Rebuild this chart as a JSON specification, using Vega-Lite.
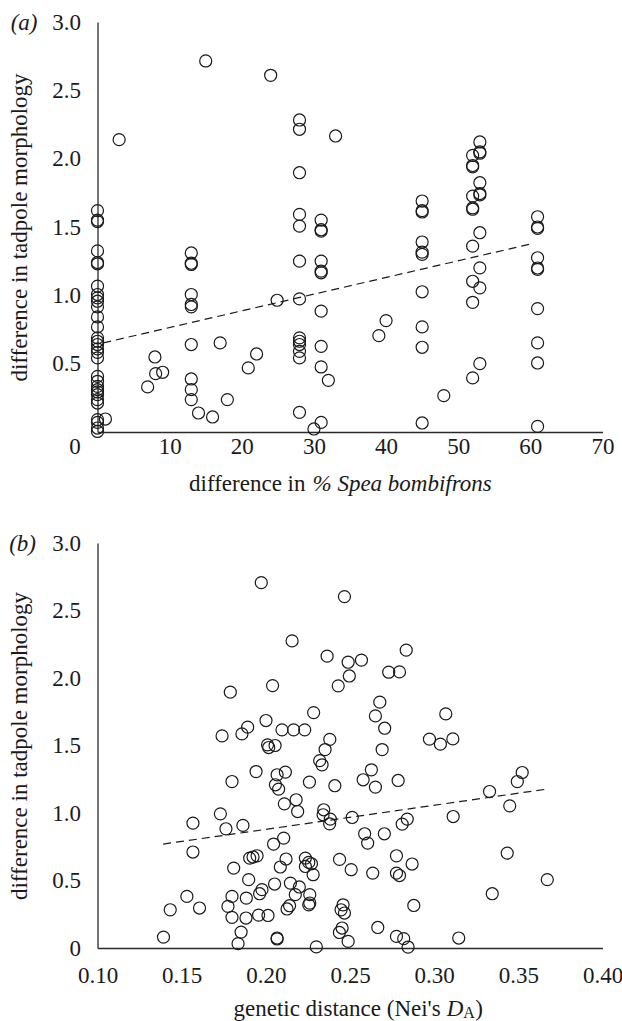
{
  "$schema": "https://vega.github.io/schema/vega-lite/v6.json",
  "background": "white",
  "padding": {"left": 7.5, "top": 11, "right": 0, "bottom": 0},
  "config": {
    "view": {"stroke": null},
    "font": "Liberation Serif",
    "axis": {"labelFont": "Liberation Serif", "titleFont": "Liberation Serif", "labelFontSize": 23, "titleFontSize": 23, "labelColor": "#1a1a1a", "titleColor": "#1a1a1a", "titleFontWeight": "normal", "grid": false, "ticks": false, "domainColor": "#2a2a2a", "domainWidth": 1.3, "labelFlush": false, "labelOverlap": false},
    "title": {"font": "Liberation Serif", "fontSize": 23, "fontWeight": "normal", "color": "#1a1a1a"}
  },
  "datasets": {
    "pa": [
      {"x": 0, "y": 1.62}, {"x": 0, "y": 1.55}, {"x": 0, "y": 1.54}, {"x": 0, "y": 1.325}, {"x": 0, "y": 1.24}, {"x": 0, "y": 1.23},
      {"x": 0, "y": 1.067}, {"x": 0, "y": 1.006}, {"x": 0, "y": 0.981}, {"x": 0, "y": 0.957}, {"x": 0, "y": 0.916}, {"x": 0, "y": 0.842},
      {"x": 0, "y": 0.769}, {"x": 0, "y": 0.689}, {"x": 0, "y": 0.664}, {"x": 0, "y": 0.64}, {"x": 0, "y": 0.608}, {"x": 0, "y": 0.583},
      {"x": 0, "y": 0.542}, {"x": 0, "y": 0.407}, {"x": 0, "y": 0.371}, {"x": 0, "y": 0.334}, {"x": 0, "y": 0.31}, {"x": 0, "y": 0.293},
      {"x": 0, "y": 0.273}, {"x": 0, "y": 0.237}, {"x": 0, "y": 0.212}, {"x": 0, "y": 0.09}, {"x": 0, "y": 0.07}, {"x": 0, "y": 0.029},
      {"x": 0, "y": 0.004},
      {"x": 1.1, "y": 0.095}, {"x": 3.0, "y": 2.139},
      {"x": 6.95, "y": 0.33}, {"x": 7.96, "y": 0.549}, {"x": 8.06, "y": 0.427}, {"x": 9.03, "y": 0.437},
      {"x": 13, "y": 1.31}, {"x": 13, "y": 1.235}, {"x": 13, "y": 1.226}, {"x": 13, "y": 1.006}, {"x": 13, "y": 0.933}, {"x": 13, "y": 0.916},
      {"x": 13, "y": 0.64}, {"x": 13, "y": 0.388}, {"x": 13, "y": 0.31}, {"x": 13, "y": 0.237},
      {"x": 14.0, "y": 0.139}, {"x": 15.95, "y": 0.11}, {"x": 15.0, "y": 2.715}, {"x": 17.0, "y": 0.652}, {"x": 18.0, "y": 0.237},
      {"x": 20.9, "y": 0.469}, {"x": 22.05, "y": 0.571}, {"x": 24.0, "y": 2.61}, {"x": 24.9, "y": 0.964},
      {"x": 28, "y": 2.283}, {"x": 28, "y": 2.215}, {"x": 28, "y": 1.897}, {"x": 28, "y": 1.592}, {"x": 28, "y": 1.506}, {"x": 28, "y": 1.25},
      {"x": 28, "y": 0.974}, {"x": 28, "y": 0.689}, {"x": 28, "y": 0.664}, {"x": 28, "y": 0.64}, {"x": 28, "y": 0.59}, {"x": 28, "y": 0.542},
      {"x": 28, "y": 0.144},
      {"x": 30.0, "y": 0.022},
      {"x": 31, "y": 1.55}, {"x": 31, "y": 1.48}, {"x": 31, "y": 1.47}, {"x": 31, "y": 1.25}, {"x": 31, "y": 1.177}, {"x": 31, "y": 1.165},
      {"x": 31, "y": 0.884}, {"x": 31, "y": 0.627}, {"x": 31, "y": 0.476}, {"x": 31, "y": 0.07},
      {"x": 32.0, "y": 0.378}, {"x": 33.0, "y": 2.166}, {"x": 39.0, "y": 0.705}, {"x": 40.0, "y": 0.815},
      {"x": 45, "y": 1.69}, {"x": 45, "y": 1.62}, {"x": 45, "y": 1.61}, {"x": 45, "y": 1.39}, {"x": 45, "y": 1.316}, {"x": 45, "y": 1.3},
      {"x": 45, "y": 1.026}, {"x": 45, "y": 0.769}, {"x": 45, "y": 0.62}, {"x": 45, "y": 0.066},
      {"x": 48.0, "y": 0.266},
      {"x": 52, "y": 2.024}, {"x": 52, "y": 1.95}, {"x": 52, "y": 1.94}, {"x": 52, "y": 1.726}, {"x": 52, "y": 1.64}, {"x": 52, "y": 1.63},
      {"x": 52, "y": 1.36}, {"x": 52, "y": 1.103}, {"x": 52, "y": 0.949}, {"x": 52, "y": 0.396},
      {"x": 53, "y": 2.122}, {"x": 53, "y": 2.05}, {"x": 53, "y": 2.04}, {"x": 53, "y": 1.824}, {"x": 53, "y": 1.745}, {"x": 53, "y": 1.735},
      {"x": 53, "y": 1.458}, {"x": 53, "y": 1.201}, {"x": 53, "y": 1.055}, {"x": 53, "y": 0.5},
      {"x": 61, "y": 1.575}, {"x": 61, "y": 1.5}, {"x": 61, "y": 1.49}, {"x": 61, "y": 1.275}, {"x": 61, "y": 1.2}, {"x": 61, "y": 1.19},
      {"x": 61, "y": 0.903}, {"x": 61, "y": 0.652}, {"x": 61, "y": 0.505}, {"x": 61, "y": 0.041}
    ],
    "la": [{"x": 0.8, "y": 0.652}, {"x": 60.4, "y": 1.38}],
    "pb": [
      {"x": 0.1973, "y": 2.706}, {"x": 0.2467, "y": 2.603}, {"x": 0.2156, "y": 2.275}, {"x": 0.2364, "y": 2.162}, {"x": 0.1789, "y": 1.895},
      {"x": 0.204, "y": 1.944}, {"x": 0.243, "y": 1.942}, {"x": 0.2284, "y": 1.744}, {"x": 0.2001, "y": 1.685}, {"x": 0.1892, "y": 1.636},
      {"x": 0.1858, "y": 1.586}, {"x": 0.174, "y": 1.571}, {"x": 0.2096, "y": 1.616}, {"x": 0.2165, "y": 1.616}, {"x": 0.2231, "y": 1.616},
      {"x": 0.238, "y": 1.545}, {"x": 0.2352, "y": 1.47}, {"x": 0.201, "y": 1.505}, {"x": 0.2055, "y": 1.5}, {"x": 0.2017, "y": 1.485},
      {"x": 0.2489, "y": 2.117}, {"x": 0.2568, "y": 2.132}, {"x": 0.2496, "y": 2.015}, {"x": 0.2834, "y": 2.206}, {"x": 0.273, "y": 2.043},
      {"x": 0.2794, "y": 2.045}, {"x": 0.2677, "y": 1.821}, {"x": 0.2651, "y": 1.719}, {"x": 0.2706, "y": 1.628}, {"x": 0.3069, "y": 1.734},
      {"x": 0.2972, "y": 1.547}, {"x": 0.3037, "y": 1.51}, {"x": 0.3111, "y": 1.549}, {"x": 0.2691, "y": 1.47}, {"x": 0.232, "y": 1.388},
      {"x": 0.2334, "y": 1.357}, {"x": 0.1942, "y": 1.307}, {"x": 0.1799, "y": 1.233}, {"x": 0.2067, "y": 1.283}, {"x": 0.2116, "y": 1.303},
      {"x": 0.2057, "y": 1.209}, {"x": 0.2076, "y": 1.177}, {"x": 0.2259, "y": 1.229}, {"x": 0.241, "y": 1.202}, {"x": 0.218, "y": 1.098},
      {"x": 0.211, "y": 1.068}, {"x": 0.2189, "y": 1.011}, {"x": 0.173, "y": 0.994}, {"x": 0.1567, "y": 0.925}, {"x": 0.1763, "y": 0.883},
      {"x": 0.1864, "y": 0.908}, {"x": 0.1567, "y": 0.711}, {"x": 0.2344, "y": 1.024}, {"x": 0.234, "y": 0.987}, {"x": 0.2383, "y": 0.955},
      {"x": 0.2379, "y": 0.92}, {"x": 0.2106, "y": 0.814}, {"x": 0.2046, "y": 0.77}, {"x": 0.1904, "y": 0.666}, {"x": 0.1924, "y": 0.674},
      {"x": 0.1948, "y": 0.683}, {"x": 0.1809, "y": 0.592}, {"x": 0.1898, "y": 0.506}, {"x": 0.2086, "y": 0.6}, {"x": 0.212, "y": 0.659},
      {"x": 0.2052, "y": 0.474}, {"x": 0.2146, "y": 0.481}, {"x": 0.2199, "y": 0.452}, {"x": 0.2175, "y": 0.395}, {"x": 0.1977, "y": 0.432},
      {"x": 0.1963, "y": 0.402}, {"x": 0.2235, "y": 0.666}, {"x": 0.2255, "y": 0.634}, {"x": 0.2271, "y": 0.624}, {"x": 0.2235, "y": 0.604},
      {"x": 0.2281, "y": 0.543}, {"x": 0.2261, "y": 0.395}, {"x": 0.2261, "y": 0.333}, {"x": 0.2255, "y": 0.32}, {"x": 0.1531, "y": 0.382},
      {"x": 0.1432, "y": 0.283}, {"x": 0.1606, "y": 0.296}, {"x": 0.1799, "y": 0.382}, {"x": 0.1884, "y": 0.37}, {"x": 0.1775, "y": 0.308},
      {"x": 0.1799, "y": 0.227}, {"x": 0.1882, "y": 0.222}, {"x": 0.1957, "y": 0.244}, {"x": 0.2013, "y": 0.241}, {"x": 0.2126, "y": 0.289},
      {"x": 0.2141, "y": 0.313}, {"x": 0.1853, "y": 0.118}, {"x": 0.1835, "y": 0.032}, {"x": 0.1392, "y": 0.081}, {"x": 0.2067, "y": 0.074},
      {"x": 0.2067, "y": 0.067}, {"x": 0.23, "y": 0.008}, {"x": 0.2459, "y": 0.32}, {"x": 0.2447, "y": 0.283}, {"x": 0.2467, "y": 0.259},
      {"x": 0.2453, "y": 0.148}, {"x": 0.2437, "y": 0.115}, {"x": 0.2489, "y": 0.049}, {"x": 0.2438, "y": 0.656}, {"x": 0.2627, "y": 1.32},
      {"x": 0.2578, "y": 1.246}, {"x": 0.2651, "y": 1.192}, {"x": 0.2786, "y": 1.241}, {"x": 0.3494, "y": 1.233}, {"x": 0.3523, "y": 1.3},
      {"x": 0.3329, "y": 1.159}, {"x": 0.3449, "y": 1.053}, {"x": 0.3113, "y": 0.974}, {"x": 0.2513, "y": 0.967}, {"x": 0.284, "y": 0.955},
      {"x": 0.281, "y": 0.918}, {"x": 0.2587, "y": 0.846}, {"x": 0.2605, "y": 0.777}, {"x": 0.2704, "y": 0.846}, {"x": 0.2507, "y": 0.58},
      {"x": 0.2635, "y": 0.555}, {"x": 0.2776, "y": 0.683}, {"x": 0.2869, "y": 0.622}, {"x": 0.2776, "y": 0.555}, {"x": 0.2794, "y": 0.537},
      {"x": 0.3434, "y": 0.703}, {"x": 0.3672, "y": 0.506}, {"x": 0.3345, "y": 0.402}, {"x": 0.2879, "y": 0.315}, {"x": 0.2665, "y": 0.152},
      {"x": 0.2776, "y": 0.086}, {"x": 0.2819, "y": 0.069}, {"x": 0.2845, "y": 0.007}, {"x": 0.3146, "y": 0.074}
    ],
    "lb": [{"x": 0.139, "y": 0.77}, {"x": 0.367, "y": 1.177}]
  },
  "spacing": 36,
  "vconcat": [
    {
      "width": 505,
      "height": 410,
      "layer": [
        {
          "data": {"name": "pa"},
          "mark": {"type": "point", "shape": "circle", "filled": false, "size": 145, "strokeWidth": 1.2, "color": "#1a1a1a", "opacity": 1},
          "encoding": {
            "x": {"field": "x", "type": "quantitative", "scale": {"domain": [0, 70], "nice": false, "zero": false},
              "axis": {"values": [0, 10, 20, 30, 40, 50, 60, 70], "labelPadding": 3,
                "labelOffset": {"condition": {"test": "datum.value === 0", "value": -23}, "value": 0},
                "title": "difference in", "titleAlign": "right", "titleBaseline": "alphabetic", "titleX": 207.5, "titleY": 58.3}},
            "y": {"field": "y", "type": "quantitative", "scale": {"domain": [0, 3], "nice": false},
              "axis": {"values": [0, 0.5, 1, 1.5, 2, 2.5, 3], "labelExpr": "datum.value === 0 ? '' : format(datum.value, '.1f')", "labelPadding": 17,
                "title": "difference in tadpole morphology", "titleAngle": -90, "titleAlign": "center", "titleBaseline": "middle", "titleX": -78.3, "titleY": 205}}
          }
        },
        {
          "data": {"name": "la"},
          "mark": {"type": "line", "strokeDash": [8, 5], "strokeWidth": 1.2, "color": "#1a1a1a"},
          "encoding": {
            "x": {"field": "x", "type": "quantitative", "scale": {"domain": [0, 70], "nice": false, "zero": false},
              "axis": {"orient": "bottom", "labels": false, "domain": false, "ticks": false, "title": "% Spea bombifrons", "titleFontStyle": "italic",
                "titleAlign": "left", "titleBaseline": "alphabetic", "titleX": 214.5, "titleY": 58.3}},
            "y": {"field": "y", "type": "quantitative", "scale": {"domain": [0, 3], "nice": false},
              "axis": {"orient": "left", "labels": false, "domain": false, "ticks": false, "title": "(a)", "titleFontStyle": "italic",
                "titleAngle": 0, "titleAlign": "left", "titleBaseline": "middle", "titleX": -87.3, "titleY": 0}}
          }
        }
      ],
      "resolve": {"axis": {"x": "independent", "y": "independent"}}
    },
    {
      "width": 505,
      "height": 405,
      "layer": [
        {
          "data": {"name": "pb"},
          "mark": {"type": "point", "shape": "circle", "filled": false, "size": 145, "strokeWidth": 1.2, "color": "#1a1a1a", "opacity": 1},
          "encoding": {
            "x": {"field": "x", "type": "quantitative", "scale": {"domain": [0.1, 0.4], "nice": false, "zero": false},
              "axis": {"values": [0.1, 0.15, 0.2, 0.25, 0.3, 0.35, 0.4], "format": ".2f", "labelPadding": 16,
                "title": "genetic distance (Nei's", "titleAlign": "right", "titleBaseline": "alphabetic", "titleX": 342.7, "titleY": 67.7}},
            "y": {"field": "y", "type": "quantitative", "scale": {"domain": [0, 3], "nice": false},
              "axis": {"values": [0, 0.5, 1, 1.5, 2, 2.5, 3], "labelExpr": "datum.value === 0 ? '0' : format(datum.value, '.1f')", "labelPadding": 17,
                "title": "difference in tadpole morphology", "titleAngle": -90, "titleAlign": "center", "titleBaseline": "middle", "titleX": -78.3, "titleY": 202.5}}
          }
        },
        {
          "data": {"name": "lb"},
          "mark": {"type": "line", "strokeDash": [8, 5], "strokeWidth": 1.2, "color": "#1a1a1a"},
          "encoding": {
            "x": {"field": "x", "type": "quantitative", "scale": {"domain": [0.1, 0.4], "nice": false, "zero": false},
              "axis": {"orient": "bottom", "domain": false, "ticks": false, "values": [0.3241], "labelExpr": "')'", "labelAlign": "left",
                "labelBaseline": "alphabetic", "labelPadding": 67.7,
                "title": "D", "titleFontStyle": "italic", "titleAlign": "left", "titleBaseline": "alphabetic", "titleX": 348.7, "titleY": 67.7}},
            "y": {"field": "y", "type": "quantitative", "scale": {"domain": [0, 3], "nice": false},
              "axis": {"orient": "left", "domain": false, "ticks": false, "values": [3], "labelExpr": "'(b)'", "labelFontStyle": "italic",
                "labelAlign": "right", "labelBaseline": "middle", "labelPadding": 62,
                "title": "A", "titleFontSize": 16, "titleAngle": 0, "titleAlign": "left", "titleBaseline": "alphabetic", "titleX": 365.3, "titleY": 474.5}}
          }
        }
      ],
      "resolve": {"axis": {"x": "independent", "y": "independent"}}
    }
  ]
}
